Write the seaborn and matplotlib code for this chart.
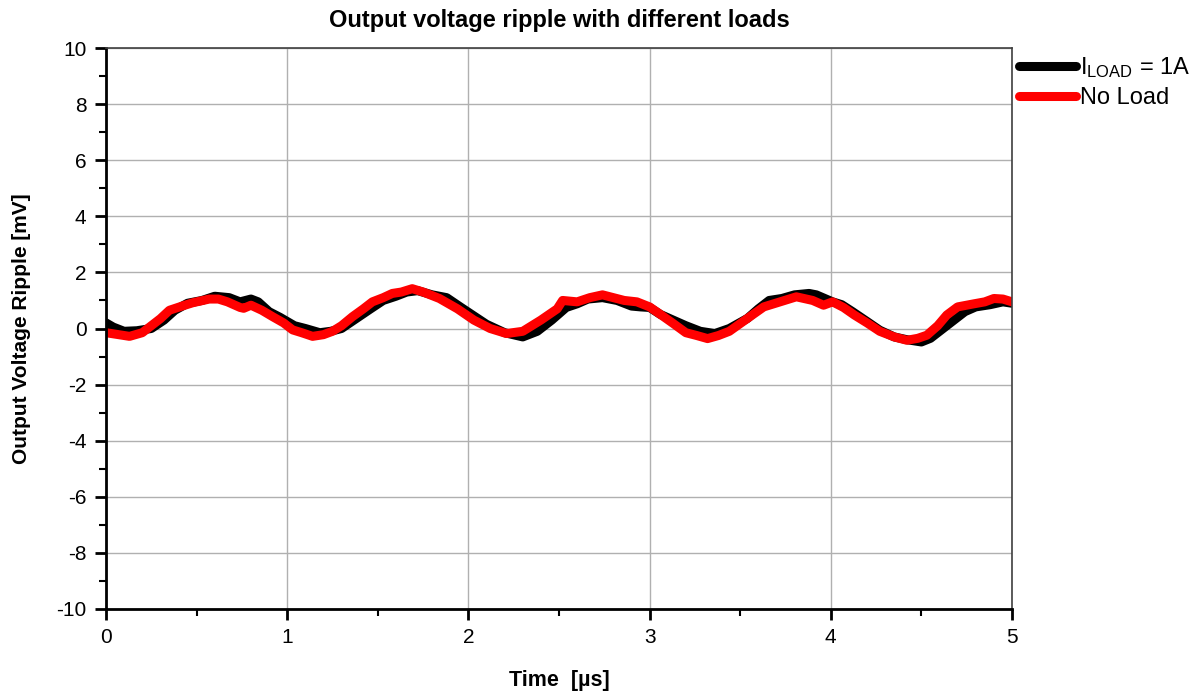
import numpy as np
import pandas as pd
import matplotlib
matplotlib.use("Agg")
import matplotlib.pyplot as plt
import seaborn as sns
from matplotlib.ticker import MultipleLocator

# ---- data ----
t_load = [0, 0.04, 0.1, 0.17, 0.25, 0.32, 0.38, 0.45, 0.53, 0.6, 0.68, 0.74, 0.8, 0.84, 0.9, 0.96,
          1.04, 1.1, 1.18, 1.24, 1.3, 1.38, 1.46, 1.53, 1.6, 1.66, 1.72, 1.8, 1.88, 1.96, 2.03, 2.1,
          2.2, 2.3, 2.38, 2.46, 2.54, 2.6, 2.66, 2.74, 2.82, 2.9, 2.95, 3.0, 3.06, 3.13, 3.2, 3.28,
          3.36, 3.44, 3.54, 3.6, 3.66, 3.73, 3.8, 3.88, 3.92, 4.01, 4.06, 4.12, 4.2, 4.27, 4.35,
          4.42, 4.5, 4.55, 4.6, 4.68, 4.74, 4.8, 4.88, 4.95, 5.0]
v_load = [0.2, 0.05, -0.1, -0.08, 0.0, 0.3, 0.65, 0.9, 1.0, 1.15, 1.1, 0.95, 1.05, 0.95, 0.6, 0.4,
          0.1, 0.0, -0.15, -0.1, 0.0, 0.35, 0.7, 1.0, 1.15, 1.3, 1.35, 1.2, 1.1, 0.75, 0.45, 0.15,
          -0.15, -0.3, -0.1, 0.3, 0.75, 0.88, 1.05, 1.1, 1.0, 0.8, 0.77, 0.75, 0.5, 0.3, 0.1, -0.1,
          -0.18, 0.0, 0.36, 0.7, 1.0, 1.07, 1.2, 1.25, 1.2, 0.95, 0.85, 0.6, 0.25, -0.06, -0.3,
          -0.4, -0.48, -0.35, -0.1, 0.3, 0.6, 0.77, 0.85, 0.95, 0.9]

t_noload = [0, 0.05, 0.13, 0.2, 0.24, 0.3, 0.35, 0.42, 0.48, 0.57, 0.62, 0.67, 0.74, 0.76, 0.8, 0.86,
            0.92, 0.98, 1.03, 1.08, 1.14, 1.2, 1.25, 1.3, 1.36, 1.42, 1.47, 1.53, 1.58, 1.63, 1.69,
            1.75, 1.84, 1.94, 2.03, 2.12, 2.21, 2.3, 2.4, 2.49, 2.52, 2.6, 2.67, 2.74, 2.8, 2.86,
            2.93, 3.0, 3.06, 3.13, 3.2, 3.26, 3.32, 3.38, 3.44, 3.54, 3.63, 3.72, 3.81, 3.9, 3.96,
            4.01, 4.07, 4.13, 4.2, 4.27, 4.35, 4.42, 4.48, 4.53, 4.59, 4.64, 4.7, 4.79, 4.85, 4.9,
            4.95, 5.0]
v_noload = [-0.15, -0.2, -0.28, -0.15, 0.05, 0.35, 0.65, 0.8, 0.92, 1.05, 1.05, 0.95, 0.75, 0.72,
            0.83, 0.65, 0.42, 0.2, -0.05, -0.15, -0.28, -0.22, -0.1, 0.1, 0.42, 0.7, 0.95, 1.1,
            1.25, 1.3, 1.42, 1.3, 1.07, 0.7, 0.3, 0.0, -0.18, -0.1, 0.3, 0.7, 1.0, 0.95, 1.1, 1.2,
            1.1, 1.0, 0.95, 0.77, 0.5, 0.18, -0.15, -0.25, -0.36, -0.25, -0.1, 0.36, 0.77, 0.95,
            1.13, 1.0, 0.83, 0.95, 0.75, 0.48, 0.2, -0.1, -0.3, -0.42, -0.35, -0.24, 0.1, 0.48,
            0.77, 0.88, 0.95, 1.07, 1.05, 0.95]

label_load = r"I$_{\mathrm{LOAD}}$ = 1A"
label_noload = "No Load"
x_ticks = [0, 1, 2, 3, 4, 5]
y_ticks = [-10, -8, -6, -4, -2, 0, 2, 4, 6, 8, 10]

df = pd.concat([
    pd.DataFrame({"t": t_load, "v": v_load, "series": label_load}),
    pd.DataFrame({"t": t_noload, "v": v_noload, "series": label_noload}),
], ignore_index=True)

sns.set_theme(style="whitegrid")
plt.rcParams["font.family"] = ["Liberation Sans", "DejaVu Sans"]
plt.rcParams["mathtext.fontset"] = "custom"
plt.rcParams["mathtext.rm"] = "Liberation Sans"
plt.rcParams["mathtext.it"] = "Liberation Sans:italic"
plt.rcParams["mathtext.bf"] = "Liberation Sans:bold"
plt.rcParams["axes.unicode_minus"] = False
plt.rcParams["text.color"] = "black"
plt.rcParams["axes.labelcolor"] = "black"
plt.rcParams["xtick.color"] = "black"
plt.rcParams["ytick.color"] = "black"

fig = plt.figure(figsize=(11.92, 6.93), dpi=100)
ax = fig.add_axes([106 / 1192, 1 - 609 / 693, (1012 - 106) / 1192, (609 - 48) / 693])

sns.lineplot(data=df, x="t", y="v", hue="series", sort=False,
             palette={label_load: "black", label_noload: "#ff0000"},
             linewidth=6.5, ax=ax, estimator=None, solid_capstyle="round",
             solid_joinstyle="round")

ax.set_xlim(0, 5)
ax.set_ylim(-10, 10)
ax.set_xticks(x_ticks)
ax.set_yticks(y_ticks)
ax.xaxis.set_minor_locator(MultipleLocator(0.5))
ax.yaxis.set_minor_locator(MultipleLocator(1))

ax.grid(True, which="major", color="#b0b0b0", linewidth=1.0)
ax.grid(False, which="minor")
ax.set_facecolor("white")

for side in ["left", "bottom"]:
    ax.spines[side].set_color("black")
    ax.spines[side].set_linewidth(2.0)
for side in ["top", "right"]:
    ax.spines[side].set_color("#404040")
    ax.spines[side].set_linewidth(1.2)

ax.tick_params(axis="both", which="major", direction="out", length=8, width=2,
               color="black", labelsize=15, pad=6, bottom=True, left=True)
ax.tick_params(axis="both", which="minor", direction="out", length=5, width=1.5,
               color="black", bottom=True, left=True)

ax.set_xlabel("Time  [µs]", fontsize=15.5, fontweight="bold", labelpad=16)
ax.set_ylabel("Output Voltage Ripple [mV]", fontsize=15, fontweight="bold", labelpad=18)
ax.set_title("Output voltage ripple with different loads", fontsize=17,
             fontweight="bold", pad=15)

leg = ax.legend(loc="upper left", bbox_to_anchor=(1.0, 1.0), frameon=False,
                fontsize=17, handlelength=2.4, handletextpad=0.2,
                borderaxespad=0.2, labelspacing=0.3, borderpad=0.1)
for line in leg.get_lines():
    line.set_linewidth(6.5)
    line.set_solid_capstyle("round")

fig.savefig("out.png", dpi=100, facecolor="white")
